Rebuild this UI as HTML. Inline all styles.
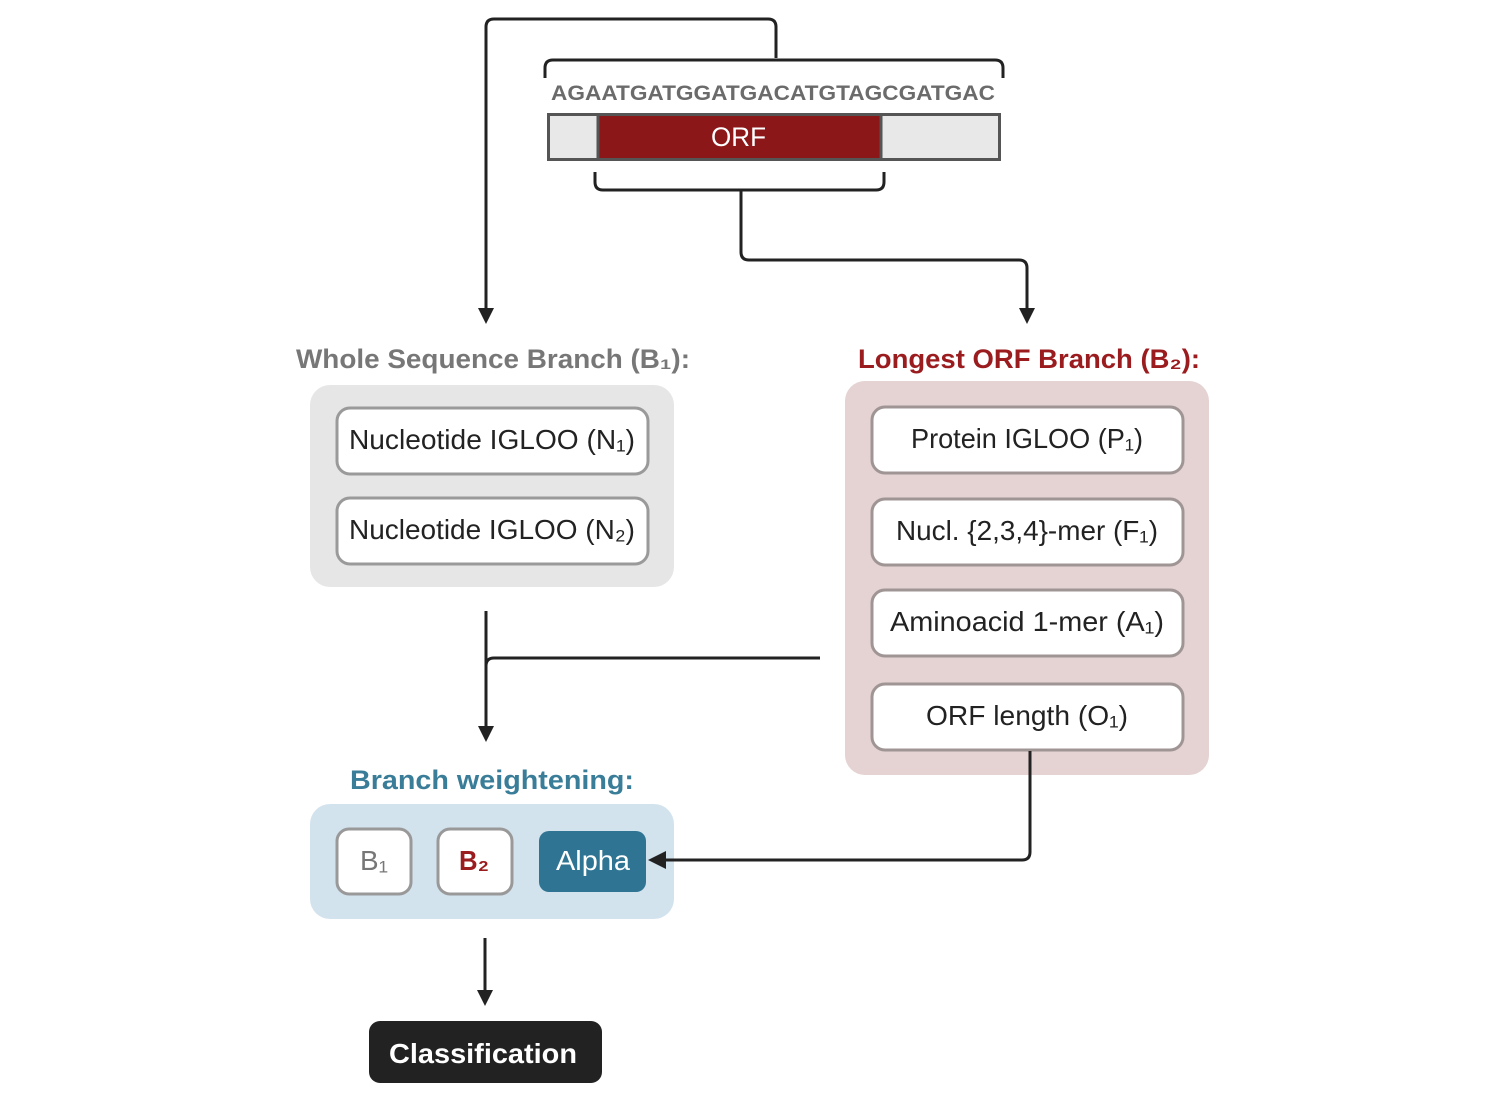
<!DOCTYPE html>
<html><head><meta charset="utf-8"><style>html,body{margin:0;padding:0;background:#fff}svg{display:block}</style></head>
<body>
<svg width="1500" height="1098" viewBox="0 0 1500 1098" xmlns="http://www.w3.org/2000/svg" font-family="Liberation Sans, DejaVu Sans, sans-serif">
<!-- sequence -->
<text x="551" y="100" font-size="21" fill="#6b6b6b" font-weight="bold" textLength="444" lengthAdjust="spacingAndGlyphs">AGAATGATGGATGACATGTAGCGATGAC</text>
<rect x="548.5" y="114.5" width="451" height="45" fill="#e8e8e8" stroke="#555" stroke-width="3"/>
<rect x="598" y="114.5" width="283" height="45" fill="#8b1719" stroke="#555" stroke-width="3"/>
<text x="738.5" y="146" font-size="27" fill="#fff" text-anchor="middle" textLength="55" lengthAdjust="spacingAndGlyphs">ORF</text>
<!-- headers -->
<text x="296" y="368" font-size="27" font-weight="bold" fill="#777" textLength="394" lengthAdjust="spacingAndGlyphs">Whole Sequence Branch (B₁):</text>
<text x="858" y="368" font-size="27" font-weight="bold" fill="#9b1c1f" textLength="342" lengthAdjust="spacingAndGlyphs">Longest ORF Branch (B₂):</text>
<!-- panels -->
<rect x="310" y="385" width="364" height="202" rx="20" fill="#e6e6e6"/>
<rect x="845" y="381" width="364" height="394" rx="20" fill="#e5d2d2"/>
<g fill="#fff" stroke="#9a9a9a" stroke-width="3">
<rect x="337" y="408" width="311" height="66" rx="13"/>
<rect x="337" y="498" width="311" height="66" rx="13"/>
</g>
<g fill="#fff" stroke="#a09595" stroke-width="3">
<rect x="872" y="407" width="311" height="66" rx="13"/>
<rect x="872" y="499" width="311" height="66" rx="13"/>
<rect x="872" y="590" width="311" height="66" rx="13"/>
<rect x="872" y="684" width="311" height="66" rx="13"/>
</g>
<g font-size="28" fill="#222">
<text x="349" y="449" textLength="286" lengthAdjust="spacingAndGlyphs">Nucleotide IGLOO (N₁)</text>
<text x="349" y="539" textLength="286" lengthAdjust="spacingAndGlyphs">Nucleotide IGLOO (N₂)</text>
<text x="911" y="448" textLength="232" lengthAdjust="spacingAndGlyphs">Protein IGLOO (P₁)</text>
<text x="896" y="540" textLength="262" lengthAdjust="spacingAndGlyphs">Nucl. {2,3,4}-mer (F₁)</text>
<text x="890" y="631" textLength="274" lengthAdjust="spacingAndGlyphs">Aminoacid 1-mer (A₁)</text>
<text x="926" y="725" textLength="202" lengthAdjust="spacingAndGlyphs">ORF length (O₁)</text>
</g>
<!-- weighting -->
<text x="350" y="789" font-size="27" font-weight="bold" fill="#3a7d98" textLength="284" lengthAdjust="spacingAndGlyphs">Branch weightening:</text>
<rect x="310" y="804" width="364" height="115" rx="20" fill="#d3e3ee"/>
<rect x="337" y="829" width="74" height="65" rx="12" fill="#fff" stroke="#999" stroke-width="3"/>
<rect x="438" y="829" width="74" height="65" rx="12" fill="#fff" stroke="#999" stroke-width="3"/>
<rect x="539" y="831" width="107" height="61" rx="10" fill="#2f7593"/>
<text x="360" y="870" font-size="28" fill="#777" textLength="28" lengthAdjust="spacingAndGlyphs">B₁</text>
<text x="459" y="870" font-size="28" font-weight="bold" fill="#9b1c1f" textLength="30" lengthAdjust="spacingAndGlyphs">B₂</text>
<text x="556" y="870" font-size="28" fill="#fff" textLength="74" lengthAdjust="spacingAndGlyphs">Alpha</text>
<!-- classification -->
<rect x="369" y="1021" width="233" height="62" rx="11" fill="#222"/>
<text x="389" y="1063" font-size="28" font-weight="bold" fill="#fff" textLength="188" lengthAdjust="spacingAndGlyphs">Classification</text>
<!-- connectors on top -->
<g fill="none" stroke="#222" stroke-width="3">
<path d="M776,58 V27 Q776,19 768,19 H494 Q486,19 486,27 V310"/>
<path d="M545,78 V68 Q545,60 553,60 H995 Q1003,60 1003,68 V78"/>
<path d="M595,172 V182 Q595,190 603,190 H876 Q884,190 884,182 V172"/>
<path d="M741,190 V252 Q741,260 749,260 H1019 Q1027,260 1027,268 V310"/>
<path d="M486,611 V728"/>
<path d="M820,658 H494 Q486,658 486,666"/>
<path d="M1030,751 V852 Q1030,860 1022,860 H664"/>
<path d="M485,938 V992"/>
</g>
<g fill="#222">
<path d="M478,308 L494,308 L486,324 z"/>
<path d="M1019,308 L1035,308 L1027,324 z"/>
<path d="M478,726 L494,726 L486,742 z"/>
<path d="M477,990 L493,990 L485,1006 z"/>
<path d="M666,851 L666,869 L648,860 z"/>
</g>
</svg>
</body></html>
